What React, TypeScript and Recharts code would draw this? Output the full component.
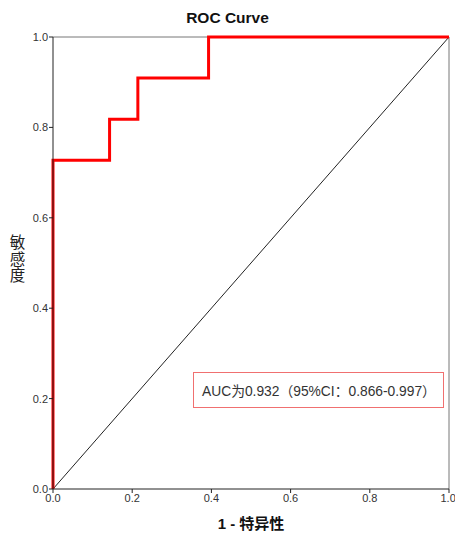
import React from "react";
import { LineChart, Line, XAxis, YAxis, ReferenceLine } from "recharts";

const fpr = [0, 0, 1 / 7, 1 / 7, 3 / 14, 3 / 14, 11 / 28, 11 / 28, 1];
const tpr = [0, 8 / 11, 8 / 11, 9 / 11, 9 / 11, 10 / 11, 10 / 11, 1, 1];
const diagX = [0, 1];
const diagY = [0, 1];
const ticks = [0, 0.2, 0.4, 0.6, 0.8, 1.0];
const title = "ROC Curve";
const xLabel = "1 - 特异性";
const yLabelChars = ["敏", "感", "度"];
const aucText = "AUC为0.932（95%CI：0.866-0.997）";

const rocData = fpr.map((x, i) => ({ x, roc: tpr[i] }));
const diagData = diagX.map((x, i) => ({ x, diag: diagY[i] }));

const FONT = "Arial, 'Liberation Sans', 'Noto Sans CJK SC', sans-serif";

export default function App() {
  return (
    <div style={{ position: "absolute", left: 0, top: 0, width: 455, height: 538, background: "#fff", fontFamily: FONT }}>
      <div style={{ position: "absolute", left: 0, top: 9, width: 455, textAlign: "center", fontSize: 15.5, fontWeight: "bold", color: "#111" }}>
        {title}
      </div>
      <LineChart width={455} height={538} margin={{ top: 37, right: 6, bottom: 19, left: 0 }}>
        <XAxis
          type="number"
          dataKey="x"
          domain={[0, 1]}
          ticks={ticks}
          tickFormatter={(v: number) => v.toFixed(1)}
          tick={{ fontSize: 11, fill: "#333", fontFamily: FONT }}
          tickSize={4}
          tickMargin={1}
          axisLine={{ stroke: "#222" }}
          tickLine={{ stroke: "#222" }}
          height={30}
          allowDuplicatedCategory={false}
        />
        <YAxis
          type="number"
          domain={[0, 1]}
          ticks={ticks}
          tickFormatter={(v: number) => v.toFixed(1)}
          tick={{ fontSize: 11, fill: "#333", fontFamily: FONT }}
          tickSize={4}
          tickMargin={1}
          axisLine={{ stroke: "#222" }}
          tickLine={{ stroke: "#222" }}
          width={53}
        />
        <ReferenceLine y={1} stroke="#777" strokeWidth={1} />
        <ReferenceLine x={1} stroke="#777" strokeWidth={1} />
        <Line data={diagData} dataKey="diag" stroke="#222" strokeWidth={1} dot={false} isAnimationActive={false} type="linear" />
        <Line data={rocData} dataKey="roc" stroke="#ff0000" strokeWidth={3} dot={false} isAnimationActive={false} type="linear" />
      </LineChart>
      <div style={{ position: "absolute", left: 0, top: 512, width: 502, textAlign: "center", fontSize: 15, fontWeight: "bold", color: "#111" }}>
        {xLabel}
      </div>
      <div style={{ position: "absolute", left: 9, top: 235, width: 17, fontSize: 15.5, lineHeight: "16.5px", color: "#222", textAlign: "center" }}>
        {yLabelChars.map((c) => (
          <div key={c}>{c}</div>
        ))}
      </div>
      <div style={{ position: "absolute", left: 193, top: 372, width: 251, height: 36, boxSizing: "border-box", border: "1.5px solid #f07070", fontSize: 13.8, color: "#333", paddingLeft: 8, lineHeight: "37px", whiteSpace: "nowrap" }}>
        {aucText}
      </div>
    </div>
  );
}
